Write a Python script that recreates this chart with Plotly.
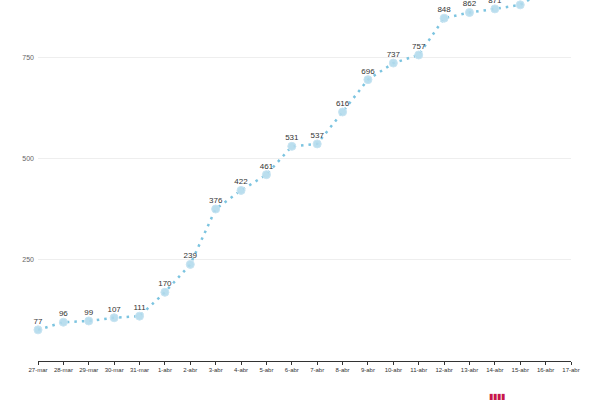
import plotly.graph_objects as go

# Dates on the x axis (27 march - 17 april)
dates = ['27-mar', '28-mar', '29-mar', '30-mar', '31-mar',
         '1-abr', '2-abr', '3-abr', '4-abr', '5-abr', '6-abr', '7-abr',
         '8-abr', '9-abr', '10-abr', '11-abr', '12-abr', '13-abr',
         '14-abr', '15-abr', '16-abr', '17-abr']

# Cumulative values (last two days run above the visible area)
values = [77, 96, 99, 107, 111, 170, 239, 376, 422, 461, 531, 537,
          616, 696, 737, 757, 848, 862, 871, 881, 918]

y_ticks = [250, 500, 750]

labels = [str(v) for v in values]
x_vals = dates[:len(values)]

fig = go.Figure()

fig.add_trace(go.Scatter(
    x=x_vals,
    y=values,
    mode='lines+markers',
    line=dict(color='#7cc4e0', width=2.5, dash='2.5px,5px'),
    marker=dict(size=8, color='rgba(178,218,236,0.9)',
                line=dict(color='rgba(200,228,242,1)', width=1)),
    cliponaxis=False,
    hoverinfo='x+y',
    showlegend=False
))

# value labels just above each point (invisible markers set the text offset)
fig.add_trace(go.Scatter(
    x=x_vals,
    y=values,
    mode='markers+text',
    text=labels,
    textposition='top center',
    textfont=dict(size=8, color='#333333', family='Liberation Sans'),
    marker=dict(size=5, color='rgba(0,0,0,0)'),
    cliponaxis=False,
    hoverinfo='skip',
    showlegend=False
))

fig.update_layout(
    width=600,
    height=400,
    margin=dict(l=38, r=29, t=0, b=39, autoexpand=False),
    paper_bgcolor='white',
    plot_bgcolor='white',
    font=dict(family='Liberation Sans', size=7, color='#555555'),
    xaxis=dict(
        type='category',
        categoryorder='array',
        categoryarray=dates,
        range=[0, len(dates) - 1],
        automargin=False,
        showgrid=False,
        showline=True,
        linecolor='#333333',
        linewidth=1,
        ticks='outside',
        ticklen=3,
        tickcolor='#333333',
        tickfont=dict(size=6, color='#333333'),
        tickangle=0,
        zeroline=False,
        fixedrange=True
    ),
    yaxis=dict(
        range=[0, 893],
        tickvals=y_ticks,
        ticktext=[str(t) for t in y_ticks],
        automargin=False,
        showgrid=True,
        gridcolor='#eeeeee',
        gridwidth=1,
        showline=False,
        zeroline=False,
        ticks='',
        ticklabelstandoff=3,
        tickfont=dict(size=7, color='#666666'),
        fixedrange=True
    )
)

# small red logo mark at the bottom
fig.add_annotation(
    text='▮▮▮▮', xref='paper', yref='paper', x=0.88, y=-0.08,
    yanchor='top', showarrow=False,
    font=dict(size=8, color='#c8174b')
)

# drop the default page margin so the chart sits at the window corner
fig.write_html("out.html", config={'displayModeBar': False},
               post_script="document.body.style.margin='0';")
